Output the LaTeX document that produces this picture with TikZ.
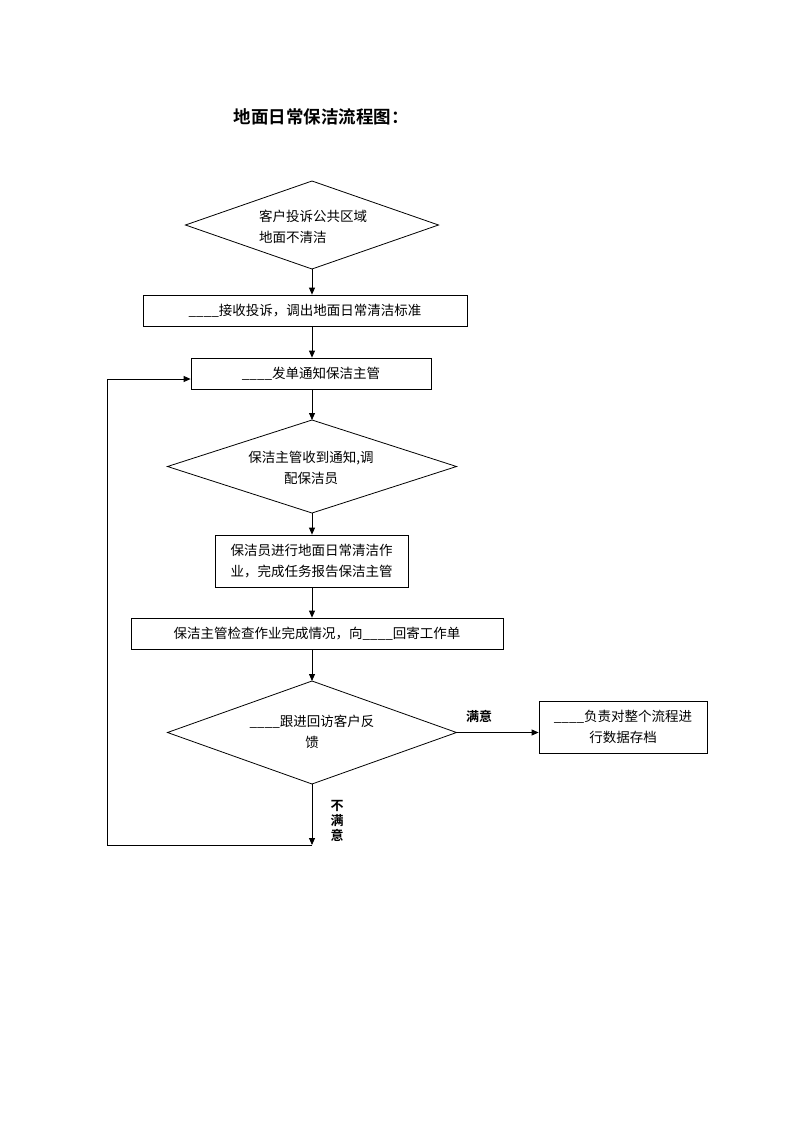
\documentclass[tikz,border=0pt]{standalone}
\usepackage{fontspec}
\setmainfont{Noto Sans CJK SC}
\newfontfamily\cjkbold{Noto Sans CJK SC Bold}
\usetikzlibrary{arrows.meta,shapes.geometric}
\begin{document}
\begin{tikzpicture}[x=1pt,y=-1pt,
  every node/.style={font=\fontsize{13.5}{21}\selectfont},
  box/.style={draw,line width=0.8pt,inner sep=0pt,align=center},
  dia/.style={draw,line width=0.8pt,diamond,inner sep=0pt,outer sep=0pt},
  conn/.style={line width=0.8pt,-{Triangle[length=7pt,width=6pt]}},
  plain/.style={line width=0.8pt},
  lbl/.style={font=\cjkbold\fontsize{13}{15}\selectfont,inner sep=0pt}]
\useasboundingbox (0,0) rectangle (793,1122);
\node[font=\cjkbold\fontsize{17.5}{20}\selectfont] (title) at (321,117) {地面日常保洁流程图：};
\node[dia,minimum width=253pt,minimum height=88pt] (d1) at (312,225) {};
\node[align=left] (d1t) at (313,226.5) {客户投诉公共区域\\地面不清洁};
\node[box,minimum width=324pt,minimum height=31pt] (b2) at (305,310.5) {\_\_\_\_接收投诉，调出地面日常清洁标准};
\node[box,minimum width=240pt,minimum height=31pt] (b3) at (311,373.5) {\_\_\_\_发单通知保洁主管};
\node[dia,minimum width=289pt,minimum height=93pt] (d2) at (312,466.5) {};
\node[align=center] (d2t) at (311,467.5) {保洁主管收到通知,调\\配保洁员};
\node[box,minimum width=193pt,minimum height=52pt] (b4) at (311.5,561) {保洁员进行地面日常清洁作\\业，完成任务报告保洁主管};
\node[box,minimum width=372pt,minimum height=31pt] (b5) at (317,633.5) {保洁主管检查作业完成情况，向\_\_\_\_回寄工作单};
\node[dia,minimum width=289pt,minimum height=103pt] (d3) at (312,732.5) {};
\node[align=center] (d3t) at (312,732) {\_\_\_\_跟进回访客户反\\馈};
\node[box,minimum width=168pt,minimum height=52pt] (b6) at (623,727) {\_\_\_\_负责对整个流程进\\行数据存档};
\node[lbl] (ok) at (479,716) {满意};
\node[lbl,align=center,font=\cjkbold\fontsize{13}{15}\selectfont] (nok) at (337,821) {不\\满\\意};
\coordinate (e) at (312,845);
\coordinate (c1) at (107,845);
\coordinate (c2) at (107,379);
\draw[conn] (d1.south) -- (d1.south |- b2.north);
\draw[conn] (d1.south |- b2.south) -- (d1.south |- b3.north);
\draw[conn] (d1.south |- b3.south) -- (d2.north);
\draw[conn] (d2.south) -- (d2.south |- b4.north);
\draw[conn] (d2.south |- b4.south) -- (d2.south |- b5.north);
\draw[conn] (d2.south |- b5.south) -- (d3.north);
\draw[conn] (d3.east) -- (d3.east -| b6.west);
\draw[conn] (d3.south) -- (e);
\draw[plain] (e) -- (c1) -- (c2);
\draw[conn] (c2) -- (c2 -| b3.west);
\end{tikzpicture}
\end{document}
